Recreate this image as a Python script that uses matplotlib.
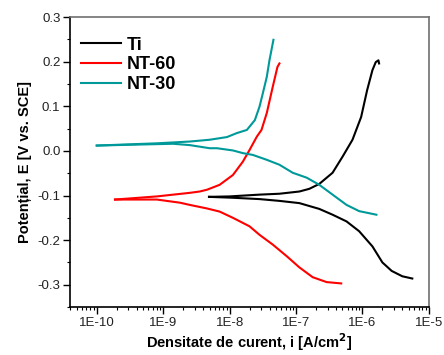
import numpy as np
import matplotlib.pyplot as plt

plt.rcParams['font.family'] = ['Liberation Sans', 'DejaVu Sans']

# Curbe de polarizare: log10(i) [A/cm2] si E [V vs. SCE]
ti_anod_logi = [-8.31, -8.0, -7.55, -7.25, -6.95, -6.80, -6.65, -6.45, -6.30, -6.15, -6.02, -5.93, -5.85, -5.80, -5.76, -5.75]
ti_anod_E = [-0.103, -0.102, -0.098, -0.096, -0.091, -0.085, -0.074, -0.049, -0.013, 0.025, 0.076, 0.136, 0.181, 0.199, 0.203, 0.196]
ti_cat_logi = [-8.31, -7.95, -7.55, -7.25, -6.95, -6.65, -6.45, -6.24, -6.05, -5.85, -5.70, -5.56, -5.40, -5.25]
ti_cat_E = [-0.103, -0.105, -0.108, -0.112, -0.117, -0.130, -0.143, -0.158, -0.180, -0.214, -0.250, -0.269, -0.281, -0.286]

nt60_anod_logi = [-9.725, -9.095, -8.60, -8.45, -8.34, -8.15, -7.95, -7.80, -7.70, -7.59, -7.52, -7.44, -7.35, -7.28, -7.25]
nt60_anod_E = [-0.109, -0.102, -0.094, -0.091, -0.087, -0.076, -0.054, -0.024, 0.002, 0.032, 0.047, 0.085, 0.144, 0.188, 0.196]
nt60_cat_logi = [-9.725, -9.095, -8.90, -8.75, -8.60, -8.34, -8.15, -7.95, -7.70, -7.55, -7.35, -7.14, -6.95, -6.75, -6.54, -6.32]
nt60_cat_E = [-0.109, -0.109, -0.113, -0.116, -0.121, -0.129, -0.136, -0.150, -0.169, -0.188, -0.210, -0.236, -0.261, -0.283, -0.294, -0.297]

nt30_anod_logi = [-10.0, -9.095, -8.60, -8.30, -8.04, -7.89, -7.74, -7.62, -7.55, -7.50, -7.44, -7.40, -7.34]
nt30_anod_E = [0.012, 0.017, 0.021, 0.025, 0.031, 0.040, 0.047, 0.069, 0.099, 0.129, 0.166, 0.203, 0.249]
nt30_cat_logi = [-10.0, -8.85, -8.60, -8.30, -8.19, -7.95, -7.80, -7.65, -7.44, -7.25, -7.05, -6.84, -6.65, -6.45, -6.24, -6.05, -5.79]
nt30_cat_E = [0.012, 0.016, 0.013, 0.006, 0.006, 0.001, -0.005, -0.009, -0.020, -0.031, -0.049, -0.060, -0.076, -0.098, -0.121, -0.135, -0.143]

xtick_vals = [1e-10, 1e-9, 1e-8, 1e-7, 1e-6, 1e-5]
xtick_labels = ['1E-10', '1E-9', '1E-8', '1E-7', '1E-6', '1E-5']
ytick_vals = [-0.3, -0.2, -0.1, 0.0, 0.1, 0.2, 0.3]

fig = plt.figure(figsize=(4.44, 3.55), dpi=100)
ax = fig.add_axes([0.158, 0.135, 0.808, 0.817])

def ramura(logi, E, culoare, eticheta=None):
    ax.plot(10 ** np.array(logi), E, color=culoare, lw=1.5, label=eticheta)

ramura(ti_anod_logi, ti_anod_E, 'black', 'Ti')
ramura(ti_cat_logi, ti_cat_E, 'black')
ramura(nt60_anod_logi, nt60_anod_E, '#ff0000', 'NT-60')
ramura(nt60_cat_logi, nt60_cat_E, '#ff0000')
ramura(nt30_anod_logi, nt30_anod_E, '#009999', 'NT-30')
ramura(nt30_cat_logi, nt30_cat_E, '#009999')

ax.set_xscale('log')
ax.set_xlim(10 ** -10.4, 1e-5)
ax.set_ylim(-0.35, 0.3)
ax.set_xticks(xtick_vals)
ax.set_xticklabels(xtick_labels)
ax.set_yticks(ytick_vals)
ax.set_yticklabels(['%.1f' % v for v in ytick_vals])
ax.set_yticks(np.arange(-0.35, 0.3, 0.1), minor=True)
ax.tick_params(which='both', direction='out', labelsize=9.5, top=False, right=False,
               labelcolor='#222222')
ax.tick_params(which='major', length=5, width=1, pad=2)
ax.tick_params(which='minor', length=2.5, width=0.8)

for s in ['left', 'bottom']:
    ax.spines[s].set_color('black')
    ax.spines[s].set_linewidth(1.2)
for s in ['top', 'right']:
    ax.spines[s].set_color('#707070')
    ax.spines[s].set_linewidth(1.2)

ax.set_xlabel('Densitate de curent, i [A/cm$^\\mathbf{2}$]', fontsize=10.5, fontweight='bold', labelpad=2)
ax.set_ylabel('Potențial, E [V vs. SCE]', fontsize=10.5, fontweight='bold', labelpad=4)

ax.legend(loc='upper left', frameon=False, prop={'weight': 'bold', 'size': 13},
          handlelength=2.2, handletextpad=0.35, labelspacing=0.15,
          borderaxespad=0.2, bbox_to_anchor=(0.0, 0.97))

fig.savefig('out.png', dpi=100)
